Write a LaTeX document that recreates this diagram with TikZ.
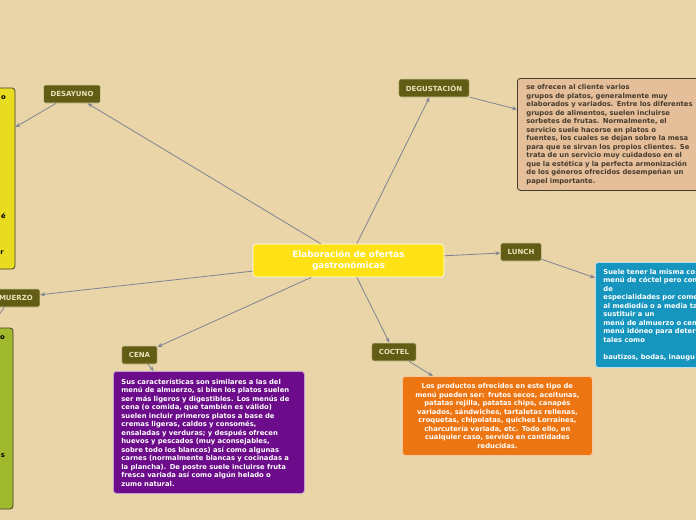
\documentclass[tikz,border=0pt]{standalone}
\usepackage{fontspec}
\setmainfont{DejaVu Sans}
\usepackage{xcolor}
\definecolor{mapbg}{RGB}{233,213,168}
\definecolor{mapyellow}{RGB}{255,226,22}
\definecolor{mapolive}{RGB}{98,92,20}
\definecolor{mapolivetext}{RGB}{232,226,186}
\definecolor{maplinkgray}{RGB}{128,132,146}
\definecolor{maptan}{RGB}{229,190,154}
\definecolor{mapteal}{RGB}{22,150,190}
\definecolor{mappurple}{RGB}{108,12,138}
\definecolor{maporange}{RGB}{238,118,18}
\definecolor{mapleftyellow}{RGB}{232,220,32}
\definecolor{mapgreen}{RGB}{160,185,45}
\definecolor{mapdark}{RGB}{70,60,45}
\usetikzlibrary{arrows.meta,positioning}

\begin{document}
\begin{tikzpicture}[x=1pt,y=-1pt,
  mapmain/.style={draw=white,line width=0.6pt,fill=mapyellow,rounded corners=3pt,
    minimum width=191pt,minimum height=33pt,align=center,text=white,
    font=\bfseries\fontsize{8.8}{10.5}\selectfont},
  maptopic/.style={draw=mapolivetext!80!mapolive,line width=0.6pt,fill=mapolive,
    rounded corners=2pt,minimum height=18pt,inner xsep=7pt,text=mapolivetext,
    font=\bfseries\fontsize{7}{8}\selectfont},
  mapnote/.style={rounded corners=3pt,line width=0.8pt,anchor=north west,align=left,
    inner xsep=8pt,font=\bfseries\fontsize{6.8}{8.5}\selectfont},
  mapfrag/.style={anchor=east,inner sep=0pt,font=\bfseries\fontsize{6.8}{8.5}\selectfont},
  maplink/.style={draw=maplinkgray,line width=0.8pt,-{Stealth[length=5pt,width=4pt]}}
]
  \useasboundingbox (0,0) rectangle (696,520);
  \fill[mapbg] (0,0) rectangle (696,520);

  % Central topic
  \node[mapmain] (main) at (348.5,260.5) {Elaboración de ofertas\\gastronómicas};

  % Subtopics
  \node[maptopic] (desayuno) at (72,94) {DESAYUNO};
  \node[maptopic] (degustacion) at (434,88) {DEGUSTACIÓN};
  \node[maptopic] (lunch) at (521,252) {LUNCH};
  \node[maptopic] (coctel) at (394,352) {COCTEL};
  \node[maptopic] (cena) at (139.5,355) {CENA};
  \node[maptopic] (almuerzo) at (11,298) {ALMUERZO};

  % Notes
  \node[mapnote,draw=mapdark,fill=maptan,text=mapdark,text width=177pt,
    minimum height=112pt,inner xsep=9pt] (degnote) at (517,78) {%
    se ofrecen al cliente varios\\
    grupos de platos, generalmente muy\\
    elaborados y variados. Entre los diferentes\\
    grupos de alimentos, suelen incluirse\\
    sorbetes de frutas. Normalmente, el\\
    servicio suele hacerse en platos o\\
    fuentes, los cuales se dejan sobre la mesa\\
    para que se sirvan los propios clientes. Se\\
    trata de un servicio muy cuidadoso en el\\
    que la estética y la perfecta armonización\\
    de los géneros ofrecidos desempeñan un\\
    papel importante.};

  \node[mapnote,draw=white!70!mapteal,fill=mapteal,text=white,text width=196pt,
    minimum height=105pt] (lunchnote) at (595,262) {%
    Suele tener la misma co\\
    menú de cóctel pero con\\
    de\\
    especialidades por come\\
    al mediodía o a media ta\\
    sustituir a un\\
    menú de almuerzo o cen\\
    menú idóneo para deter\\
    tales como\\[8.5pt]
    bautizos, bodas, inaugu};

  \node[mapnote,draw=white!60!mappurple,fill=mappurple,text=white,text width=175pt,
    minimum height=122pt] (cenanote) at (113,371) {%
    Sus características son similares a las del\\
    menú de almuerzo, si bien los platos suelen\\
    ser más ligeros y digestibles. Los menús de\\
    cena (o comida, que también es válido)\\
    suelen incluir primeros platos a base de\\
    cremas ligeras, caldos y consomés,\\
    ensaladas y verduras; y después ofrecen\\
    huevos y pescados (muy aconsejables,\\
    sobre todo los blancos) así como algunas\\
    carnes (normalmente blancas y cocinadas a\\
    la plancha). De postre suele incluirse fruta\\
    fresca variada así como algún helado o\\
    zumo natural.};

  \node[mapnote,draw=white!60!maporange,fill=maporange,text=white,text width=174pt,
    minimum height=79pt,align=center] (coctelnote) at (402,376) {%
    Los productos ofrecidos en este tipo de\\
    menú pueden ser: frutos secos, aceitunas,\\
    patatas rejilla, patatas chips, canapés\\
    variados, sándwiches, tartaletas rellenas,\\
    croquetas, chipolatas, quiches Lorraines,\\
    charcutería variada, etc. Todo ello, en\\
    cualquier caso, servido en cantidades\\
    reducidas.};

  \node[draw=mapdark,fill=mapleftyellow,rounded corners=3pt,line width=0.8pt,
    minimum width=176pt,minimum height=181pt] (desnote) at (-73,178.5) {};
  \node[mapfrag] (desfrag1) at (6,98) {o};
  \node[mapfrag] (desfrag2) at (6,216) {é};
  \node[mapfrag] (desfrag3) at (4,253) {r};

  \node[draw=mapdark,fill=mapgreen,rounded corners=3pt,line width=0.8pt,
    minimum width=176pt,minimum height=181pt] (almnote) at (-75,418.5) {};
  \node[mapfrag] (almfrag1) at (5,338) {o};
  \node[mapfrag] (almfrag2) at (5,456) {s};

  % Links from the central topic
  \draw[maplink] (main) -- (desayuno);
  \draw[maplink] (main) -- (degustacion);
  \draw[maplink] (main) -- (lunch);
  \draw[maplink] (main) -- (coctel);
  \draw[maplink] (main) -- (cena);
  \draw[maplink] (main) -- (almuerzo);

  % Links to the notes
  \draw[maplink] (desayuno) -- (desnote);
  \draw[maplink] (degustacion) -- (degnote);
  \draw[maplink] (lunch) -- (lunchnote);
  \draw[maplink] (coctel) -- (coctelnote);
  \draw[maplink] (cena) -- (cenanote);
  \draw[maplink] (almuerzo) -- (almnote);
\end{tikzpicture}
\end{document}
